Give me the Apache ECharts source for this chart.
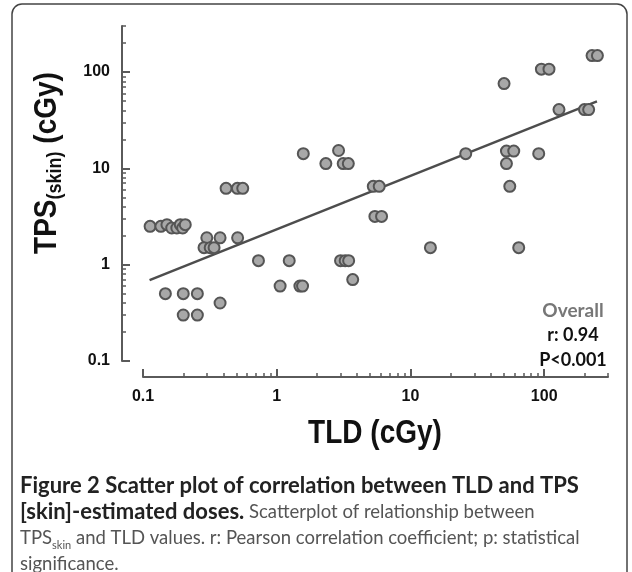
<!DOCTYPE html>
<html><head><meta charset="utf-8">
<script src="https://cdn.jsdelivr.net/npm/echarts@6/dist/echarts.min.js"></script>
<style>html,body{margin:0;padding:0;background:#fff}#c{width:632px;height:572px}</style>
</head><body><div id="c"></div>
<script>
// TLD dose (x, cGy) and TPS(skin) dose (y, cGy) for each measurement point
const tldValues = [
  0.113, 0.136, 0.151, 0.164, 0.179, 0.190, 0.198, 0.207,
  0.300, 0.377, 0.510,
  0.286, 0.318, 0.340,
  0.730, 1.24, 3.00, 3.25, 3.45,
  3.70,
  1.06, 1.49, 1.56,
  0.147, 0.200, 0.255,
  0.200, 0.255,
  0.377,
  0.418, 0.508, 0.557,
  1.58, 2.33, 2.90, 3.14, 3.43,
  5.27, 5.84, 5.42, 6.08,
  14.1, 25.9, 50.1, 52.2, 59.2, 52.2, 55.3, 64.5, 91.0,
  95.3, 108.6, 129, 200, 215, 228, 250
];
const tpsValues = [
  2.5, 2.5, 2.6, 2.4, 2.4, 2.6, 2.4, 2.6,
  1.9, 1.9, 1.9,
  1.5, 1.5, 1.5,
  1.1, 1.1, 1.1, 1.1, 1.1,
  0.7,
  0.6, 0.6, 0.6,
  0.5, 0.5, 0.5,
  0.3, 0.3,
  0.4,
  6.2, 6.2, 6.2,
  14.2, 11.2, 15.3, 11.2, 11.2,
  6.5, 6.5, 3.17, 3.17,
  1.5, 14.2, 75.8, 15.1, 15.1, 11.2, 6.5, 1.5, 14.2,
  107, 107, 40.7, 40.7, 40.7, 148, 148
];
// regression line end points
const fitTld = [0.112, 248];
const fitTps = [0.69, 49.6];
// axis ticks
const majorTicks = [0.1, 1, 10, 100];
const minorTicks = [0.2, 0.3, 0.4, 0.5, 0.6, 0.7, 0.8, 0.9,
  2, 3, 4, 5, 6, 7, 8, 9, 20, 30, 40, 50, 60, 70, 80, 90, 200, 300];
const axisMin = 0.1, axisMax = 300;
const statsLines = ['Overall', 'r: 0.94', 'P<0.001'];

const chart = echarts.init(document.getElementById('c'), null, {renderer: 'canvas'});
const axisColor = '#5a5a5a';
function makeAxes(offset, pos) {
  return [
    {
      type: 'log', logBase: 10, min: axisMin, max: axisMax, position: pos, offset: offset,
      axisLine: {show: true, onZero: false, lineStyle: {color: axisColor, width: 2}},
      axisTick: {show: true, inside: true, length: 8, customValues: majorTicks, lineStyle: {color: axisColor, width: 2}},
      axisLabel: {show: true, customValues: majorTicks, margin: 12, fontFamily: 'Liberation Sans, Arial', fontWeight: 'bold', fontSize: 16, color: '#111'},
      splitLine: {show: false}
    },
    {
      type: 'log', logBase: 10, min: axisMin, max: axisMax, position: pos, offset: offset,
      axisLine: {show: false, onZero: false},
      axisTick: {show: true, inside: true, length: 4, customValues: minorTicks, lineStyle: {color: axisColor, width: 1.5}},
      axisLabel: {show: false},
      splitLine: {show: false}
    }
  ];
}
const scatterData = tldValues.map((x, i) => [x, tpsValues[i]]);
const fitData = fitTld.map((x, i) => [x, fitTps[i]]);

chart.setOption({
  animation: false,
  backgroundColor: '#fff',
  grid: {left: 143, right: 24, top: 26, bottom: 211, containLabel: false, outerBoundsMode: 'none'},
  xAxis: makeAxes(16, 'bottom'),
  yAxis: makeAxes(21, 'left'),
  series: [
    {type: 'line', data: fitData, xAxisIndex: 0, yAxisIndex: 0, symbol: 'none', z: 2,
      lineStyle: {color: '#4d4d4d', width: 2.5}},
    {type: 'scatter', data: scatterData, xAxisIndex: 0, yAxisIndex: 0, symbolSize: 11, z: 3,
      itemStyle: {color: '#a8a8a8', borderColor: '#555', borderWidth: 2, opacity: 1}}
  ],
  graphic: [
    {type: 'rect', silent: true, shape: {x: 12, y: 4, width: 615, height: 620, r: 10},
      style: {fill: 'none', stroke: '#444', lineWidth: 1.5}},
    {type: 'text', x: 375, y: 434, scaleY: 1.2,
      style: {text: 'TLD (cGy)', fontFamily: 'Liberation Sans, Arial', fontWeight: 'bold', fontSize: 28,
        fill: '#111', textAlign: 'center', textVerticalAlign: 'middle'}},
    {type: 'text', x: 47, y: 163, rotation: Math.PI / 2, scaleY: 1.15,
      style: {text: '{b|TPS}{s|(skin)}{b| (cGy)}', textAlign: 'center', textVerticalAlign: 'middle',
        rich: {
          b: {fontFamily: 'Liberation Sans, Arial', fontWeight: 'bold', fontSize: 28, lineHeight: 32, fill: '#111', verticalAlign: 'middle'},
          s: {fontFamily: 'Liberation Sans, Arial', fontWeight: 'bold', fontSize: 18, lineHeight: 18, fill: '#111', verticalAlign: 'bottom'}
        }}},
    {type: 'text', x: 573, y: 298,
      style: {text: '{o|' + statsLines[0] + '}\n{v|' + statsLines[1] + '}\n{v|' + statsLines[2] + '}',
        textAlign: 'center', textVerticalAlign: 'top',
        rich: {
          o: {fontFamily: 'Lato', fontWeight: 'bold', fontSize: 19, lineHeight: 25, fill: '#777'},
          v: {fontFamily: 'Lato', fontWeight: 'bold', fontSize: 18, lineHeight: 25, fill: '#111'}
        }}},
    {type: 'text', x: 20, y: 473,
      style: {text: '{b|Figure 2 Scatter plot of correlation between TLD and TPS}\n{b|[skin]-estimated doses.}{r| Scatterplot of relationship between}\n{r|TPS}{s|skin}{r| and TLD values. r: Pearson correlation coefficient; p: statistical}\n{r|significance.}',
        textAlign: 'left', textVerticalAlign: 'top',
        rich: {
          b: {fontFamily: 'Lato', fontWeight: 'bold', fontSize: 22, lineHeight: 26, fill: '#222'},
          r: {fontFamily: 'Lato', fontWeight: 'normal', fontSize: 18.5, lineHeight: 26, fill: '#555'},
          s: {fontFamily: 'Lato', fontWeight: 'normal', fontSize: 11, lineHeight: 14, fill: '#555', verticalAlign: 'bottom'}
        }}}
  ]
});
</script>
</body></html>
